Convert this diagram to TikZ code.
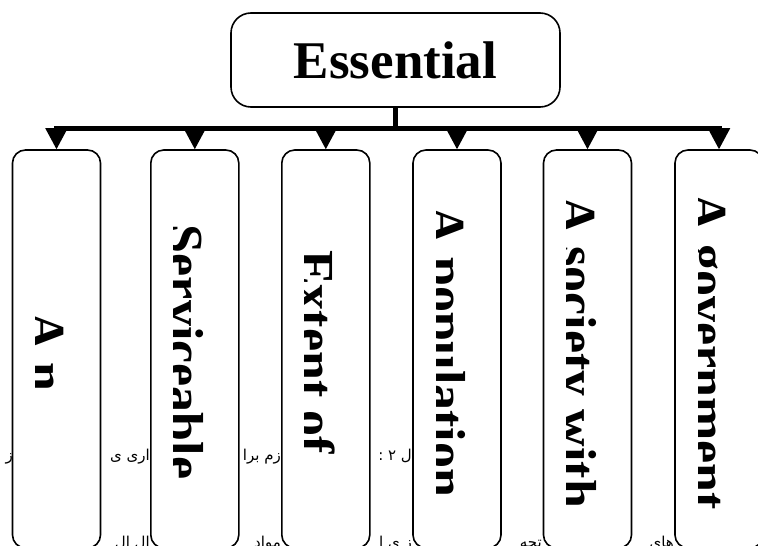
\documentclass[tikz,border=0pt]{standalone}
\usepackage{fontspec}
\setmainfont{Liberation Serif}
\newfontfamily\fafont[Script=Arabic]{DejaVu Sans}
\TeXXeTstate=1
\usetikzlibrary{arrows.meta,calc}
\tikzset{
  topbox/.style={draw, line width=1.6pt, rounded corners=20pt, minimum width=329pt,
    minimum height=94pt, inner sep=0pt, font=\fontsize{53}{60}\selectfont\bfseries},
  colbox/.style={draw, fill=white, line width=1.6pt, rounded corners=13pt,
    minimum width=88pt, minimum height=398pt, inner sep=0pt},
  coltext/.style={rotate=-90, anchor=base, inner sep=0pt,
    font=\fontsize{52}{60}\selectfont\bfseries},
  conn/.style={line width=5pt, -{Triangle[width=22pt,length=21pt,line width=2pt,sharp]}},
  fatext/.style={font=\fafont\fontsize{15}{17}\selectfont, inner sep=0pt, anchor=base east},
}
\begin{document}
\begin{tikzpicture}[x=1pt,y=-1pt]
\useasboundingbox (0,0) rectangle (758,546);
\clip (0,0) rectangle (758,546);
% background Persian text (partly hidden by the boxes)
\node[fatext] (f1) at (13,460) {\beginR ز\endR};
\node[fatext] (f2) at (150,460) {\beginR اری ی\endR};
\node[fatext] (f3) at (281,460) {\beginR زم برا\endR};
\node[fatext] (f4) at (412,460) {\beginR ل ۲ :\endR};
\node[fatext] (f5) at (150,547) {\beginR ال ال\endR};
\node[fatext] (f6) at (281,547) {\beginR مواد\endR};
\node[fatext] (f7) at (412,547) {\beginR ز ی ا\endR};
\node[fatext] (f8) at (542,547) {\beginR تجه\endR};
\node[fatext] (f9) at (674,547) {\beginR های\endR};
% top box
\node[topbox] (top) at (395.5,60) {Essential};
% column boxes
\node[colbox] (b1) at (56.5,349) {};
\node[colbox] (b2) at (194.8,349) {};
\node[colbox] (b3) at (325.8,349) {};
\node[colbox] (b4) at (457,349) {};
\node[colbox] (b5) at (587.5,349) {};
\node[colbox] (b6) at (719,349) {};
% column texts, clipped just above their baseline
\foreach \b/\t/\txt in {b1/t1/{A n}, b2/t2/{Serviceable}, b3/t3/{Extent of},
                        b4/t4/{A population}, b5/t5/{A society with}, b6/t6/{A government}}{
  \begin{scope}
    \clip ($(\b.center)+(-21,-190)$) rectangle ($(\b.center)+(40,190)$);
    \node[coltext] (\t) at ($(\b.center)+(-27.5,3)$) {\txt};
  \end{scope}
}
% connectors
\foreach \b in {b1,b2,b3,b4,b5,b6}{
  \draw[conn] (top.south) -- ++(0,20.5) -| (\b.north);
}
\end{tikzpicture}
\end{document}
